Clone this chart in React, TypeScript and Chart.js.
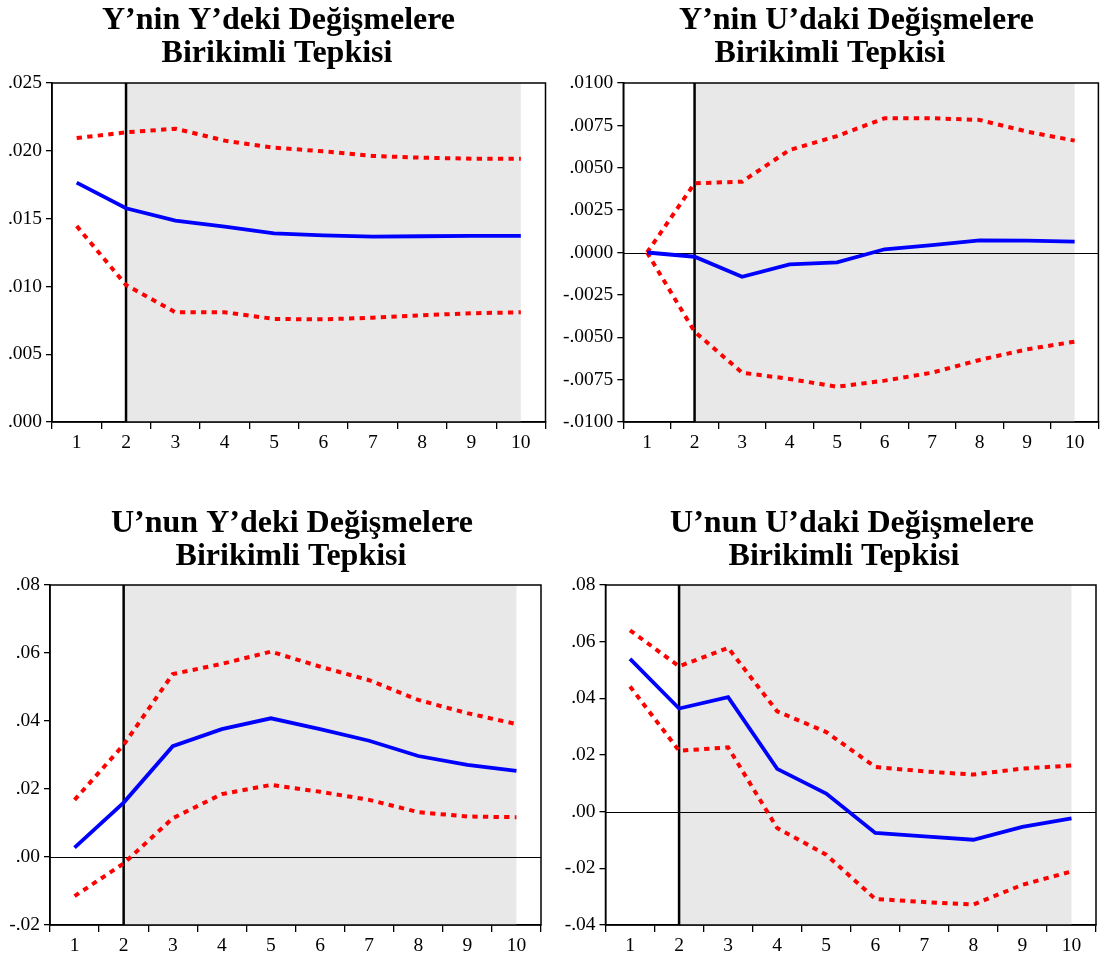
import React, { useEffect, useRef } from "react";
import { Chart, registerables } from "chart.js";

Chart.register(...registerables);

// ---------- data ----------
const periods = ["1", "2", "3", "4", "5", "6", "7", "8", "9", "10"];
const shadeFrom = "2";
const shadeTo = "10";

const yyTitle = ["Y’nin Y’deki Değişmelere", "Birikimli Tepkisi"];
const yyResponse = [0.01765, 0.01576, 0.01485, 0.0144, 0.01391, 0.01377, 0.01367, 0.0137, 0.01372, 0.01372];
const yyUpper = [0.02094, 0.02136, 0.02163, 0.02075, 0.02023, 0.01996, 0.01962, 0.01949, 0.01942, 0.01942];
const yyLower = [0.01445, 0.0101, 0.00809, 0.00809, 0.0076, 0.00757, 0.00769, 0.00787, 0.00802, 0.00809];
const yyAxis = [0, 0.025, 0.005, 3]; // min, max, step, decimals

const yuTitle = ["Y’nin U’daki Değişmelere", "Birikimli Tepkisi"];
const yuResponse = [0, -0.00025, -0.00143, -0.0007, -0.00058, 0.00019, 0.00044, 0.00072, 0.0007, 0.00064];
const yuUpper = [0, 0.00408, 0.00418, 0.00605, 0.00687, 0.00792, 0.00792, 0.00782, 0.00713, 0.0066];
const yuLower = [0, -0.00467, -0.00709, -0.00746, -0.00792, -0.00756, -0.00709, -0.00634, -0.00571, -0.00526];
const yuAxis = [-0.01, 0.01, 0.0025, 4];

const uyTitle = ["U’nun Y’deki Değişmelere", "Birikimli Tepkisi"];
const uyResponse = [0.00275, 0.016, 0.0326, 0.0376, 0.0408, 0.0376, 0.0342, 0.0297, 0.0271, 0.0253];
const uyUpper = [0.0168, 0.033, 0.0538, 0.0568, 0.0604, 0.056, 0.052, 0.0462, 0.0423, 0.0391];
const uyLower = [-0.0115, -0.0019, 0.0114, 0.0185, 0.0212, 0.0192, 0.0168, 0.0132, 0.0119, 0.0117];
const uyAxis = [-0.02, 0.08, 0.02, 2];

const uuTitle = ["U’nun U’daki Değişmelere", "Birikimli Tepkisi"];
const uuResponse = [0.0539, 0.0364, 0.0404, 0.0151, 0.0064, -0.0075, -0.0087, -0.0099, -0.0054, -0.0024];
const uuUpper = [0.064, 0.0513, 0.0578, 0.0354, 0.0281, 0.0158, 0.0142, 0.0131, 0.0152, 0.0163];
const uuLower = [0.0442, 0.0215, 0.0227, -0.0058, -0.0152, -0.0308, -0.0319, -0.0328, -0.0258, -0.0211];
const uuAxis = [-0.04, 0.08, 0.02, 2];

// ---------- helpers ----------
const FONT = "'Liberation Serif', 'Times New Roman', serif";

function fmt(v: number, d: number): string {
  const s = Math.abs(v) < 1e-12 ? (0).toFixed(d) : v.toFixed(d);
  return s.replace(/^(-?)0\./, "$1.");
}

const decorPlugin = {
  id: "irfDecor",
  beforeDatasetsDraw(chart: any) {
    const { ctx, chartArea, scales } = chart;
    const { top, bottom } = chartArea;
    const x = scales.x;
    const y = scales.y;
    const xa = x.getPixelForValue(periods.indexOf(shadeFrom));
    const xb = x.getPixelForValue(periods.indexOf(shadeTo));
    ctx.save();
    ctx.fillStyle = "#E8E8E8";
    ctx.fillRect(xa, top, xb - xa, bottom - top);
    if (y.min < 0 && y.max > 0) {
      const y0 = Math.round(y.getPixelForValue(0)) + 0.5;
      ctx.strokeStyle = "#000";
      ctx.lineWidth = 1;
      ctx.beginPath();
      ctx.moveTo(chartArea.left, y0);
      ctx.lineTo(chartArea.right, y0);
      ctx.stroke();
    }
    ctx.strokeStyle = "#000";
    ctx.lineWidth = 2.5;
    ctx.beginPath();
    ctx.moveTo(xa, top);
    ctx.lineTo(xa, bottom);
    ctx.stroke();
    ctx.restore();
  },
  afterDraw(chart: any) {
    const { ctx, chartArea } = chart;
    ctx.save();
    ctx.strokeStyle = "#000";
    ctx.lineWidth = 1.5;
    ctx.strokeRect(chartArea.left, chartArea.top, chartArea.right - chartArea.left, chartArea.bottom - chartArea.top);
    ctx.restore();
  },
};

type Panel = {
  title: string[];
  resp: number[];
  upper: number[];
  lower: number[];
  axis: number[];
  cl: number; ct: number; cw: number; ch: number;
  pt: number; pr: number; pb: number;
  yw: number; xh: number;
  tx: number[]; ty: number[]; // title line centres, canvas coords
};

function IrfChart({ p }: { p: Panel }) {
  const ref = useRef<HTMLCanvasElement | null>(null);
  useEffect(() => {
    if (!ref.current) return;
    const [min, max, step, dec] = p.axis;
    const titlePlugin = {
      id: "irfTitle",
      afterDraw(chart: any) {
        const ctx = chart.ctx;
        ctx.save();
        ctx.fillStyle = "#000";
        ctx.font = `bold 32px ${FONT}`;
        ctx.textAlign = "center";
        ctx.textBaseline = "middle";
        p.title.forEach((line, i) => ctx.fillText(line, p.tx[i], p.ty[i]));
        ctx.restore();
      },
    };
    const chart = new Chart(ref.current, {
      type: "line",
      data: {
        labels: periods,
        datasets: [
          {
            data: p.resp,
            borderColor: "#0000FF",
            borderWidth: 3.8,
            pointRadius: 0,
            tension: 0,
            fill: false,
          },
          {
            data: p.upper,
            borderColor: "#FF0000",
            borderWidth: 4,
            borderDash: [5.3, 5.3],
            pointRadius: 0,
            tension: 0,
            fill: false,
          },
          {
            data: p.lower,
            borderColor: "#FF0000",
            borderWidth: 4,
            borderDash: [5.3, 5.3],
            pointRadius: 0,
            tension: 0,
            fill: false,
          },
        ],
      },
      options: {
        responsive: false,
        animation: false,
        devicePixelRatio: 1,
        layout: { padding: { left: 0, right: p.pr, top: p.pt, bottom: p.pb } },
        plugins: {
          legend: { display: false },
          tooltip: { enabled: false },
          title: { display: false },
        },
        scales: {
          x: {
            type: "category",
            offset: true,
            afterFit: (s: any) => { s.height = p.xh; },
            grid: {
              display: true,
              offset: true,
              drawOnChartArea: false,
              drawTicks: true,
              tickLength: 7,
              color: "#000",
              lineWidth: 1.3,
            },
            border: { display: true, color: "#000", width: 1.5 },
            ticks: {
              color: "#000",
              padding: 2,
              maxRotation: 0,
              autoSkip: false,
              font: { family: FONT, size: 19.5 },
            },
          },
          y: {
            min,
            max,
            afterFit: (s: any) => { s.width = p.yw; },
            grid: {
              display: true,
              drawOnChartArea: false,
              drawTicks: true,
              tickLength: 6,
              color: "#000",
              lineWidth: 1.3,
            },
            border: { display: true, color: "#000", width: 1.5 },
            ticks: {
              stepSize: step,
              color: "#000",
              padding: 4,
              font: { family: FONT, size: 19.5 },
              callback: (v: any) => fmt(Number(v), dec),
            },
          },
        },
      },
      plugins: [decorPlugin, titlePlugin],
    });
    return () => chart.destroy();
  }, [p]);
  return (
    <canvas
      ref={ref}
      width={p.cw}
      height={p.ch}
      style={{ position: "absolute", left: p.cl, top: p.ct, width: p.cw, height: p.ch }}
    />
  );
}

const panels: Panel[] = [
  { title: yyTitle, resp: yyResponse, upper: yyUpper, lower: yyLower, axis: yyAxis,
    cl: 0, ct: 0, cw: 553, ch: 470, pt: 83, pr: 7.5, pb: 8, yw: 52, xh: 40,
    tx: [278.5, 277], ty: [20.3, 53.6] },
  { title: yuTitle, resp: yuResponse, upper: yuUpper, lower: yuLower, axis: yuAxis,
    cl: 555, ct: 0, cw: 551, ch: 470, pt: 83, pr: 7.6, pb: 8, yw: 68.3, xh: 40,
    tx: [301.5, 275], ty: [20.3, 53.6] },
  { title: uyTitle, resp: uyResponse, upper: uyUpper, lower: uyLower, axis: uyAxis,
    cl: 0, ct: 480, cw: 553, ch: 485, pt: 105, pr: 12, pb: 4, yw: 50, xh: 36,
    tx: [292, 291], ty: [43.5, 76.5] },
  { title: uuTitle, resp: uuResponse, upper: uuUpper, lower: uuLower, axis: uuAxis,
    cl: 555, ct: 480, cw: 551, ch: 485, pt: 105, pr: 10, pb: 4, yw: 50.5, xh: 36,
    tx: [297, 289], ty: [43.5, 76.5] },
];

export default function App() {
  return (
    <div style={{ position: "absolute", left: 0, top: 0, width: 1106, height: 965, background: "#fff", overflow: "hidden" }}>
      {panels.map((p, i) => (
        <IrfChart key={i} p={p} />
      ))}
    </div>
  );
}
